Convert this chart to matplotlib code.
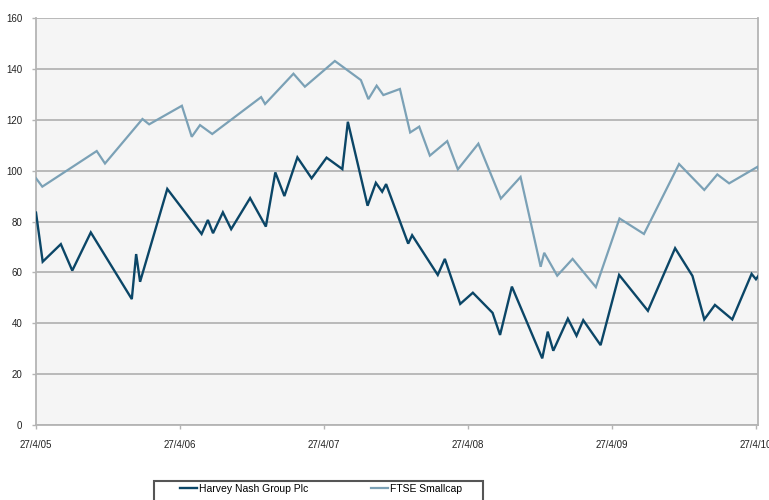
import matplotlib
matplotlib.use("Agg")
import matplotlib.pyplot as plt
from matplotlib.patches import Rectangle
from matplotlib.lines import Line2D

plt.rcParams['font.family'] = ['Liberation Sans', 'DejaVu Sans']

# Days elapsed since 27 April 2005
harvey_days = [0, 17, 63, 92, 139, 243, 254, 264, 333, 420, 436, 449, 474, 495,
               543, 583, 607, 630, 663, 699, 737, 777, 791, 841, 862, 878, 888,
               944, 954, 1019, 1037, 1076, 1108, 1158, 1177, 1207, 1284, 1298,
               1312, 1349, 1371, 1388, 1432, 1479, 1552, 1621, 1665, 1695, 1722,
               1766, 1815, 1826, 1834]
harvey_values = [83.5, 64.2, 71.1, 60.7, 75.7, 49.5, 67.2, 56.3, 92.8, 75.1, 80.6,
                 75.4, 83.6, 77.0, 89.2, 78.0, 99.3, 90.0, 105.2, 97.0, 105.1,
                 100.6, 119.2, 86.2, 95.2, 91.7, 94.7, 71.3, 74.6, 59.0, 65.3,
                 47.6, 52.0, 44.1, 35.4, 54.4, 26.2, 36.7, 29.2, 41.8, 35.1, 41.2,
                 31.4, 59.0, 44.9, 69.5, 58.6, 41.5, 47.2, 41.5, 59.4, 57.3, 59.0]

ftse_days = [0, 16, 154, 175, 270, 287, 370, 395, 416, 447, 571, 581, 653, 682,
             758, 824, 843, 864, 881, 923, 949, 972, 999, 1043, 1070, 1122, 1179,
             1229, 1280, 1289, 1322, 1361, 1420, 1480, 1542, 1631, 1695, 1728,
             1758, 1830, 1834]
ftse_values = [97.0, 93.7, 107.7, 102.8, 120.3, 118.2, 125.5, 113.3, 117.9, 114.4,
               128.9, 126.2, 138.1, 133.0, 143.1, 135.6, 128.1, 133.4, 129.7, 132.1,
               115.0, 117.3, 105.9, 111.6, 100.5, 110.6, 89.0, 97.5, 62.2, 67.7,
               58.7, 65.3, 54.2, 81.2, 75.1, 102.6, 92.4, 98.5, 95.0, 101.5, 99.6]

tick_days = [0, 365, 730, 1096, 1461, 1826]
tick_labels = ["27/4/05", "27/4/06", "27/4/07", "27/4/08", "27/4/09", "27/4/10"]
y_ticks = [0, 20, 40, 60, 80, 100, 120, 140, 160]

dark = "#0b4667"
light = "#7ba1b6"
grid = "#b4b4b4"

W, H = 769, 500
fig = plt.figure(figsize=(W / 100, H / 100), dpi=100, facecolor="white")
ax = fig.add_axes([36 / W, 1 - 425 / H, (758.3 - 36) / W, (425 - 18) / H])
ax.set_facecolor("#f5f5f5")

ax.plot(ftse_days, ftse_values, color=light, lw=1.6, solid_joinstyle="miter",
        label="FTSE Smallcap", zorder=3)
ax.plot(harvey_days, harvey_values, color=dark, lw=1.7, solid_joinstyle="miter",
        label="Harvey Nash Group Plc", zorder=4)

ax.set_xlim(0, 1832)
ax.set_ylim(0, 160)
ax.set_yticks(y_ticks)
ax.set_xticks(tick_days)
ax.set_xticklabels(tick_labels)

ax.grid(axis="y", color=grid, lw=1.3, zorder=1)
ax.grid(axis="x", visible=False)
for side in ["left", "right", "bottom", "top"]:
    ax.spines[side].set_color(grid)
    ax.spines[side].set_linewidth(1.3)
ax.spines["top"].set_visible(False)

ax.tick_params(axis="both", colors=grid, labelcolor="#222222", labelsize=7,
               length=3, width=1)
ax.tick_params(axis="y", pad=7)
ax.tick_params(axis="x", pad=8)

# Legend, framed by a box that runs off the bottom edge
fig.patches.append(Rectangle((154 / W, -0.02), (483 - 154) / W, (0.02 + 1 - 481 / H),
                             transform=fig.transFigure, fill=False,
                             edgecolor="#555555", lw=1.5))
handles = [Line2D([], [], color=dark, lw=1.7), Line2D([], [], color=light, lw=1.6)]
fig.legend(handles, ["Harvey Nash Group Plc", "FTSE Smallcap"], ncol=2,
           loc="center left", bbox_to_anchor=(180 / W, 1 - 488.5 / H),
           frameon=False, fontsize=7.5, handlelength=1.6, handletextpad=0.25,
           columnspacing=6.0, borderpad=0, borderaxespad=0)

fig.savefig("out.png", dpi=100, facecolor="white")
